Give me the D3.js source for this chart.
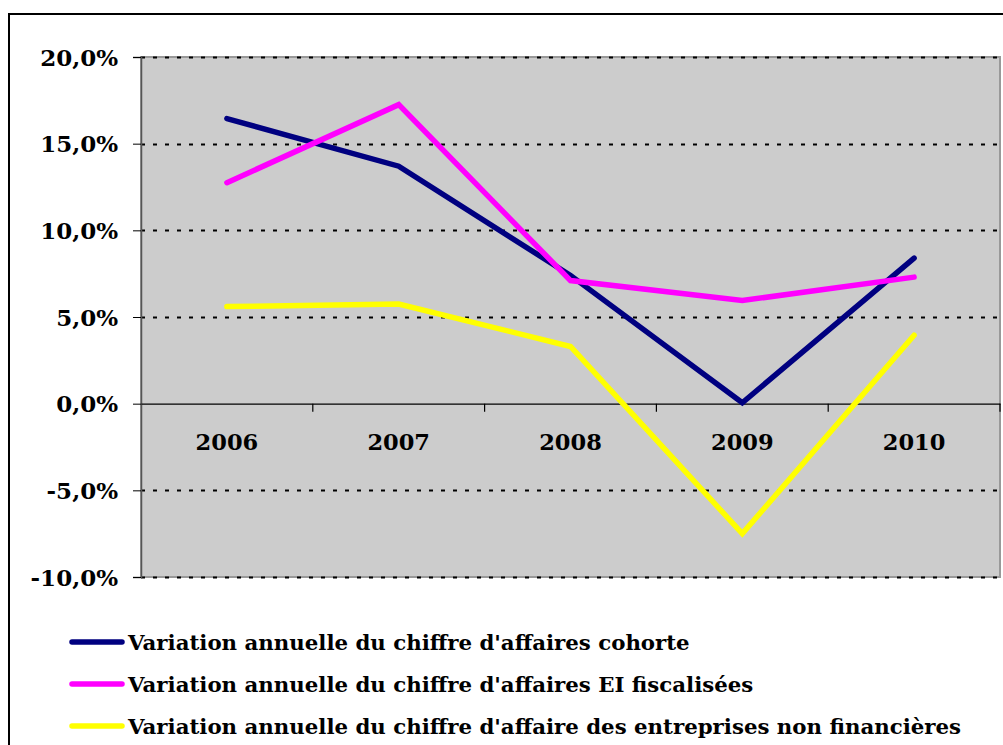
<!DOCTYPE html>
<html>
<head>
<meta charset="utf-8">
<script src="https://cdn.jsdelivr.net/npm/d3@7"></script>
<style>
  body { margin: 0; background: #fff; }
  svg text { font-family: "DejaVu Serif", serif; font-weight: bold; fill: #000; }
</style>
</head>
<body>
<div id="chart"></div>
<script>
// chart data
var years = ["2006", "2007", "2008", "2009", "2010"];
var cohorte = [16.45, 13.7, 7.4, 0.05, 8.4];
var eiFiscalisees = [12.75, 17.25, 7.1, 5.95, 7.3];
var entreprisesNF = [5.6, 5.75, 3.3, -7.5, 3.95];
var seriesNames = [
  "Variation annuelle du chiffre d'affaires cohorte",
  "Variation annuelle du chiffre d'affaires EI fiscalisées",
  "Variation annuelle du chiffre d'affaire des entreprises non financières"
];
var seriesColors = ["#000080", "#FF00FF", "#FFFF00"];
var yTicks = [-10, -5, 0, 5, 10, 15, 20];

var svgWidth = 1003;
var svgHeight = 745;

var margin = { top: 57, left: 141 };
var plotWidth = 859;
var plotHeight = 520;

var svg = d3.select("#chart").append("svg")
  .attr("width", svgWidth)
  .attr("height", svgHeight);

// outer frame
svg.append("rect")
  .attr("x", 9).attr("y", 14)
  .attr("width", 1010).attr("height", 760)
  .attr("fill", "none")
  .attr("stroke", "#000")
  .attr("stroke-width", 2);

var chartGroup = svg.append("g")
  .attr("transform", `translate(${margin.left}, ${margin.top})`);

var xScale = d3.scaleBand()
  .domain(years)
  .range([0, plotWidth]);

var yScale = d3.scaleLinear()
  .domain([-10, 20])
  .range([plotHeight, 0]);

// plot background
chartGroup.append("rect")
  .attr("width", plotWidth)
  .attr("height", plotHeight)
  .attr("fill", "#CCCCCC")
  .attr("stroke", "#999")
  .attr("stroke-width", 2);

// dashed gridlines
chartGroup.selectAll(".grid")
  .data(yTicks.filter(d => d !== 0))
  .enter()
  .append("line")
  .attr("x1", 0)
  .attr("x2", plotWidth)
  .attr("y1", d => Math.round(yScale(d)) + 0.5)
  .attr("y2", d => Math.round(yScale(d)) + 0.5)
  .attr("stroke", "#000")
  .attr("stroke-width", 2)
  .attr("stroke-dasharray", "4,8");

// y axis
var leftAxis = d3.axisLeft(yScale)
  .tickValues(yTicks)
  .tickSize(8)
  .tickPadding(15)
  .tickFormat(d => d3.format(".1f")(d).replace(".", ",").replace("−", "-") + "%");

var yAxis = chartGroup.append("g")
  .call(leftAxis);
yAxis.select(".domain").attr("stroke", "#555").attr("stroke-width", 1.5);
yAxis.selectAll("text").attr("font-size", "23px").attr("dy", "0.35em");

// zero line with category ticks
var zeroY = yScale(0);
var bottomAxis = d3.axisBottom(xScale)
  .tickSize(0)
  .tickPadding(30);

var xAxis = chartGroup.append("g")
  .attr("transform", `translate(0, ${zeroY})`)
  .call(bottomAxis);
xAxis.select(".domain").attr("stroke", "#000").attr("stroke-width", 1.2);
xAxis.selectAll("text").attr("font-size", "22.5px");

xAxis.selectAll(".cat-tick")
  .data(years.slice(1).concat(["end"]))
  .enter()
  .append("line")
  .attr("x1", (d, i) => xScale.step() * (i + 1))
  .attr("x2", (d, i) => xScale.step() * (i + 1))
  .attr("y1", 0)
  .attr("y2", 8)
  .attr("stroke", "#000")
  .attr("stroke-width", 1.2);

// lines
var allSeries = [cohorte, eiFiscalisees, entreprisesNF];
var line = d3.line()
  .x((d, i) => xScale(years[i]) + xScale.bandwidth() / 2)
  .y(d => yScale(d));

chartGroup.selectAll(".series")
  .data(allSeries)
  .enter()
  .append("path")
  .attr("d", d => line(d))
  .attr("fill", "none")
  .attr("stroke", (d, i) => seriesColors[i])
  .attr("stroke-width", 5.5)
  .attr("stroke-linejoin", "miter")
  .attr("stroke-linecap", "round");

// legend
var legend = svg.append("g")
  .attr("transform", "translate(72, 642)");

var legendItems = legend.selectAll(".leg")
  .data(seriesNames)
  .enter()
  .append("g")
  .attr("transform", (d, i) => `translate(0, ${i * 42})`);

legendItems.append("line")
  .attr("x1", 0).attr("x2", 50)
  .attr("y1", 0).attr("y2", 0)
  .attr("stroke", (d, i) => seriesColors[i])
  .attr("stroke-width", 5.5)
  .attr("stroke-linecap", "round");

legendItems.append("text")
  .attr("x", 56)
  .attr("y", 0)
  .attr("dy", "0.38em")
  .attr("font-size", "21.3px")
  .text(d => d);
</script>
</body>
</html>
